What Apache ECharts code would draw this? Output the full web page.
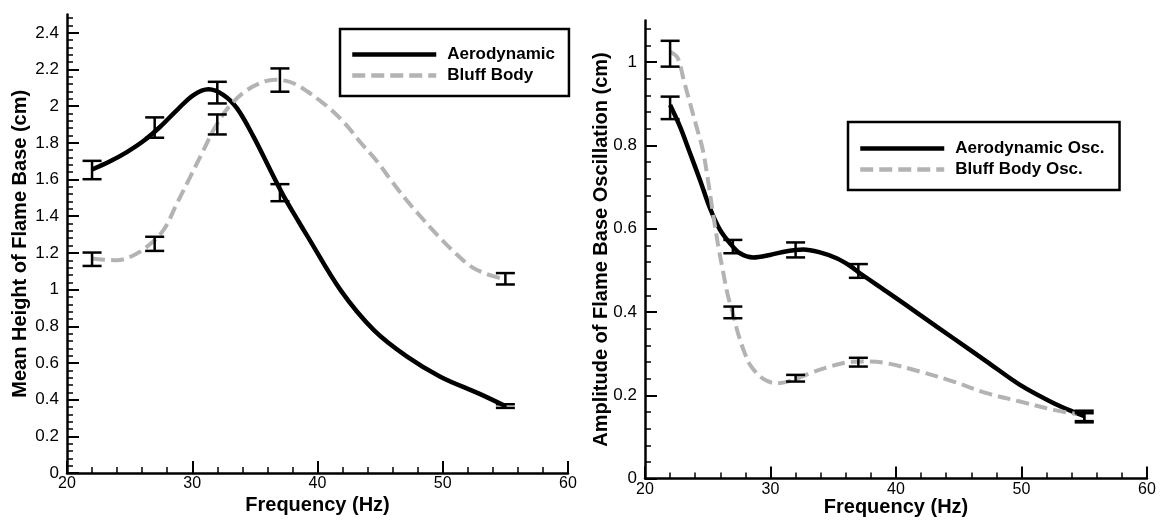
<!DOCTYPE html>
<html>
<head>
<meta charset="utf-8">
<script src="https://cdn.jsdelivr.net/npm/echarts@6/dist/echarts.min.js"></script>
<style>
html,body{margin:0;padding:0;background:#fff;}
#chart{width:1161px;height:522px;}
</style>
</head>
<body>
<div id="chart"></div>
<script>
// ---- error-bar measurement points ----
const freqPoints = [22, 27, 32, 37, 55];
const heightAeroLow  = [1.602, 1.828, 2.015, 1.482, 0.355];
const heightAeroHigh = [1.702, 1.939, 2.133, 1.575, 0.375];
const heightBluffLow  = [1.129, 1.211, 1.846, 2.079, 1.028];
const heightBluffHigh = [1.202, 1.288, 1.955, 2.206, 1.090];
const oscAeroLow  = [0.863, 0.541, 0.531, 0.482, 0.138];
const oscAeroHigh = [0.917, 0.573, 0.567, 0.515, 0.163];
const oscBluffLow  = [0.989, 0.385, 0.233, 0.269, 0.135];
const oscBluffHigh = [1.051, 0.413, 0.249, 0.290, 0.157];

// ---- fitted curves ----
const heightAeroFreq = [22, 23.44, 24.78, 26.1, 27.44, 28.78, 30.1, 31.3, 32.5, 33.58, 34.9, 36.24, 37.3, 38.5, 39.18, 41.84, 44.5, 47.18, 49.84, 52.9, 55];
const heightAeroVal  = [1.655, 1.70, 1.75, 1.81, 1.888, 1.979, 2.061, 2.092, 2.061, 1.988, 1.833, 1.651, 1.51, 1.37, 1.293, 0.997, 0.779, 0.633, 0.524, 0.433, 0.365];
const heightBluffFreq = [22, 23.97, 25.04, 26.37, 27.7, 28.78, 29.84, 30.9, 31.84, 33.04, 34.38, 35.7, 36.6, 37.5, 38.3, 39.2, 40.1, 41.04, 42.24, 43.44, 44.78, 45.9, 47.1, 48.3, 49.5, 50.82, 52.3, 53.5, 54.6];
const heightBluffVal  = [1.17, 1.16, 1.178, 1.233, 1.324, 1.47, 1.615, 1.76, 1.888, 2.006, 2.088, 2.133, 2.144, 2.138, 2.118, 2.08, 2.035, 1.984, 1.902, 1.802, 1.697, 1.593, 1.488, 1.393, 1.302, 1.211, 1.124, 1.085, 1.062];
const oscAeroFreq = [22, 22.79, 23.59, 24.38, 25.18, 25.98, 26.77, 27.57, 28.63, 29.96, 31.29, 32.62, 33.94, 35.27, 36.33, 37.13, 39.26, 41.91, 44.57, 47.23, 49.88, 52.57, 54.4, 55];
const oscAeroVal  = [0.897, 0.845, 0.781, 0.717, 0.649, 0.597, 0.565, 0.541, 0.531, 0.537, 0.546, 0.55, 0.543, 0.529, 0.511, 0.493, 0.449, 0.393, 0.337, 0.281, 0.225, 0.181, 0.157, 0.15];
const oscBluffFreq = [22, 22.6, 23.1, 23.6, 24.1, 24.6, 25.0, 25.4, 25.8, 26.2, 26.6, 27.0, 27.4, 27.9, 28.4, 29.4, 30.5, 31.5, 33.15, 34.74, 36.07, 37.5, 39.26, 41.91, 44.57, 47.23, 49.88, 52.57, 54.4];
const oscBluffVal  = [1.025, 1.01, 0.955, 0.9, 0.845, 0.79, 0.72, 0.64, 0.565, 0.5, 0.44, 0.397, 0.35, 0.305, 0.272, 0.24, 0.229, 0.234, 0.253, 0.269, 0.279, 0.281, 0.277, 0.257, 0.233, 0.205, 0.185, 0.165, 0.155];

// ---- tick labels ----
const heightTickLabels = [0, 0.2, 0.4, 0.6, 0.8, 1, 1.2, 1.4, 1.6, 1.8, 2, 2.2, 2.4];
const oscTickLabels = [0, 0.2, 0.4, 0.6, 0.8, 1];
const freqTickLabels = [20, 30, 40, 50, 60];

const seriesNames = ['Aerodynamic', 'Bluff Body', 'Aerodynamic Osc.', 'Bluff Body Osc.'];

function minorVals(maxV) {
  const out = [];
  for (let i = 0; i * 0.04 <= maxV + 1e-9; i++) {
    const v = +(i * 0.04).toFixed(2);
    if (Math.abs(v / 0.2 - Math.round(v / 0.2)) > 1e-6) out.push(v);
  }
  return out;
}
function pairs(xs, ys) { return xs.map((x, i) => [x, ys[i]]); }
function bars(lo, hi) { return freqPoints.map((f, i) => [f, lo[i], hi[i]]); }

const FONT = 'Liberation Sans, Arial, Helvetica, sans-serif';
const BLACK = '#000';
const GRAY = '#b3b3b3';

function xAxisCfg(grid, gap) {
  return {
    type: 'value', gridIndex: grid, min: 20, max: 60, interval: 10,
    name: 'Frequency (Hz)', nameLocation: 'middle', nameGap: gap, nameMoveOverlap: false,
    nameTextStyle: { fontFamily: FONT, fontWeight: 'bold', fontSize: 20, color: BLACK },
    axisLine: { show: true, lineStyle: { color: BLACK, width: 2.5 } },
    axisTick: { show: true, inside: true, length: 12, lineStyle: { color: BLACK, width: 2 } },
    minorTick: { show: true, splitNumber: 5, length: 6, lineStyle: { color: BLACK, width: 1.5 } },
    axisLabel: { color: BLACK, fontFamily: FONT, fontSize: 16, margin: 3,
      customValues: freqTickLabels },
    splitLine: { show: false }, minorSplitLine: { show: false }
  };
}
function yMain(grid, maxV, labels, title, gap) {
  return {
    type: 'value', gridIndex: grid, min: 0, max: maxV, position: 'left',
    name: title, nameLocation: 'middle', nameGap: gap, nameMoveOverlap: false,
    nameTextStyle: { fontFamily: FONT, fontWeight: 'bold', fontSize: 20, color: BLACK },
    axisLine: { show: true, onZero: false, lineStyle: { color: BLACK, width: 2.5 } },
    axisTick: { show: true, inside: true, length: 12, lineStyle: { color: BLACK, width: 2 }, customValues: labels },
    axisLabel: { color: BLACK, fontFamily: FONT, fontSize: 17, margin: 8, customValues: labels,
      formatter: v => String(+v.toFixed(2)) },
    splitLine: { show: false }
  };
}
function yMinor(grid, maxV) {
  return {
    type: 'value', gridIndex: grid, min: 0, max: maxV, position: 'left', offset: 0,
    axisLine: { show: false },
    axisTick: { show: true, inside: true, length: 6, lineStyle: { color: BLACK, width: 1.5 }, customValues: minorVals(maxV) },
    axisLabel: { show: false }, splitLine: { show: false }
  };
}

function errRender(params, api) {
  const x = api.value(0), lo = api.value(1), hi = api.value(2);
  const a = api.coord([x, lo]);
  const b = api.coord([x, hi]);
  const h = 9.5;
  const st = { stroke: BLACK, lineWidth: 2.5 };
  return {
    type: 'group',
    children: [
      { type: 'line', shape: { x1: a[0], y1: a[1], x2: b[0], y2: b[1] }, style: st },
      { type: 'line', shape: { x1: a[0] - h, y1: a[1], x2: a[0] + h, y2: a[1] }, style: st },
      { type: 'line', shape: { x1: b[0] - h, y1: b[1], x2: b[0] + h, y2: b[1] }, style: st }
    ]
  };
}
function lineSeries(name, xi, yi, data, color, width, dash) {
  return {
    name, type: 'line', xAxisIndex: xi, yAxisIndex: yi, data,
    smooth: 0.35, symbol: 'none', silent: true, animation: false,
    lineStyle: { color, width, type: dash || 'solid' }, itemStyle: { color }, z: 2
  };
}
function errSeries(xi, yi, data) {
  return { type: 'custom', xAxisIndex: xi, yAxisIndex: yi, data, renderItem: errRender,
    silent: true, animation: false, z: 5 };
}

const legendBase = {
  orient: 'vertical', selectedMode: false, itemGap: 4, itemWidth: 84, itemHeight: 12,
  borderColor: BLACK, borderWidth: 2.5, backgroundColor: '#fff',
  textStyle: { fontFamily: FONT, fontWeight: 'bold', fontSize: 17, color: BLACK, padding: [0, 0, 0, 6] },
  lineStyle: { width: 4.5 },
  itemStyle: { color: 'rgba(0,0,0,0)', borderWidth: 0, opacity: 0 }
};

const chart = echarts.init(document.getElementById('chart'), null, { renderer: 'canvas' });
chart.setOption({
  animation: false,
  backgroundColor: '#fff',
  grid: [
    { left: 67, top: 14.5, width: 501, height: 458.5, outerBoundsMode: 'none' },
    { left: 645, top: 20.4, width: 502, height: 458.2, outerBoundsMode: 'none' }
  ],
  xAxis: [xAxisCfg(0, 22), xAxisCfg(1, 19)],
  yAxis: [
    yMain(0, 2.5, heightTickLabels, 'Mean Height of Flame Base (cm)', 37),
    yMinor(0, 2.5),
    yMain(1, 1.1, oscTickLabels, 'Amplitude of Flame Base Oscillation (cm)', 34),
    yMinor(1, 1.1)
  ],
  legend: [
    Object.assign({}, legendBase, { left: 340, top: 29, padding: [17, 14, 12, 10],
      data: [seriesNames[0], seriesNames[1]] }),
    Object.assign({}, legendBase, { left: 848, top: 122, padding: [18, 15, 12, 10],
      data: [seriesNames[2], seriesNames[3]] })
  ],
  series: [
    lineSeries(seriesNames[0], 0, 0, pairs(heightAeroFreq, heightAeroVal), BLACK, 4.5),
    lineSeries(seriesNames[1], 0, 0, pairs(heightBluffFreq, heightBluffVal), GRAY, 4, [13, 6]),
    errSeries(0, 0, bars(heightAeroLow, heightAeroHigh)),
    errSeries(0, 0, bars(heightBluffLow, heightBluffHigh)),
    lineSeries(seriesNames[2], 1, 2, pairs(oscAeroFreq, oscAeroVal), BLACK, 4.5),
    lineSeries(seriesNames[3], 1, 2, pairs(oscBluffFreq, oscBluffVal), GRAY, 4, [13, 6]),
    errSeries(1, 2, bars(oscAeroLow, oscAeroHigh)),
    errSeries(1, 2, bars(oscBluffLow, oscBluffHigh))
  ]
});
</script>
</body>
</html>
